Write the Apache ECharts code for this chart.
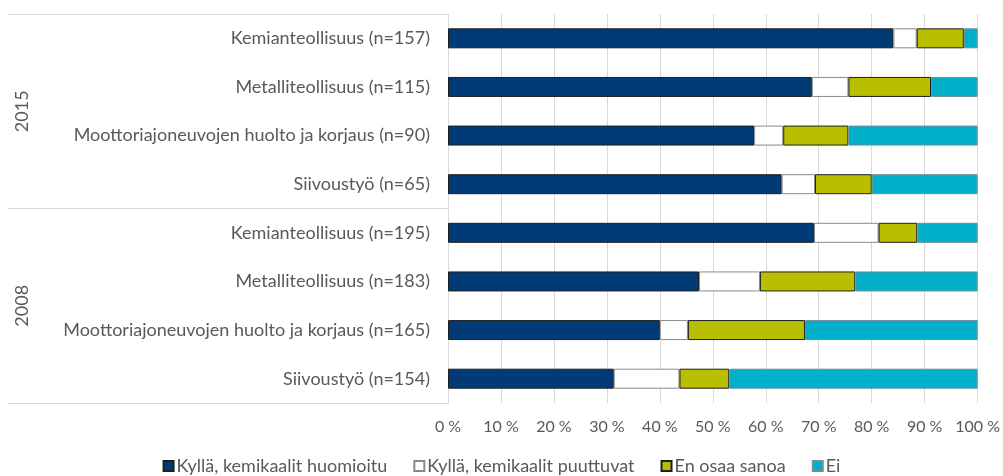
<!DOCTYPE html>
<html>
<head>
<meta charset="utf-8">
<script src="https://cdn.jsdelivr.net/npm/echarts@6/dist/echarts.min.js"></script>
<style>html,body{margin:0;padding:0;background:#fff}#c{width:1003px;height:476px}</style>
</head>
<body>
<div id="c"></div>
<script>
const categories = [
  'Kemianteollisuus (n=157)',
  'Metalliteollisuus (n=115)',
  'Moottoriajoneuvojen huolto ja korjaus (n=90)',
  'Siivoustyö (n=65)',
  'Kemianteollisuus (n=195)',
  'Metalliteollisuus (n=183)',
  'Moottoriajoneuvojen huolto ja korjaus (n=165)',
  'Siivoustyö (n=154)'
];
const years = ['2015', '2008'];
const seriesNames = ['Kyllä, kemikaalit huomioitu', 'Kyllä, kemikaalit puuttuvat', 'En osaa sanoa', 'Ei'];
const huomioitu = [84.1, 68.7, 57.8, 63.0, 69.1, 47.4, 40.0, 31.3];
const puuttuvat = [4.4, 6.9, 5.5, 6.3, 12.2, 11.5, 5.3, 12.4];
const enOsaa    = [8.9, 15.6, 12.3, 10.7, 7.3, 18.0, 22.1, 9.4];
const ei        = [2.6, 8.8, 24.4, 20.0, 11.4, 23.1, 32.6, 46.9];
const xTicks = [0, 10, 20, 30, 40, 50, 60, 70, 80, 90, 100];

const FONT = 'Lato';
const TXT = '#595959';
const colors = ['#003B76', '#FFFFFF', '#B7BF00', '#00B0CA'];
const borders = ['#1f1f1f', '#8a8a8a', '#1f1f1f', '#6f8f99'];
const values = [huomioitu, puuttuvat, enOsaa, ei];

const chart = echarts.init(document.getElementById('c'), null, {renderer: 'canvas'});
chart.setOption({
  animation: false,
  textStyle: {fontFamily: FONT},
  grid: {left: 448, right: 25, top: 14, bottom: 73, containLabel: false},
  legend: {
    bottom: -4, left: 'center',
    itemWidth: 10, itemHeight: 10, itemGap: 26,
    textStyle: {color: TXT, fontSize: 18, fontFamily: FONT, padding: [0, 0, 0, -2]},
    data: seriesNames.map(n => ({name: n, icon: 'rect'}))
  },
  xAxis: {
    type: 'value', min: xTicks[0], max: xTicks[xTicks.length - 1], interval: 10,
    axisLine: {show: false}, axisTick: {show: false},
    splitLine: {show: true, lineStyle: {color: '#d9d9d9', width: 1}},
    axisLabel: {color: TXT, fontSize: 16, margin: 16, formatter: v => v + ' %'}
  },
  yAxis: [
    {
      type: 'category', data: categories, inverse: true,
      axisLine: {show: true, lineStyle: {color: '#d9d9d9'}},
      axisTick: {show: false},
      axisLabel: {color: TXT, fontSize: 18, margin: 18}
    },
    {
      type: 'category', data: years, inverse: true, position: 'left',
      axisLine: {show: false},
      axisTick: {show: true, length: 440, lineStyle: {color: '#d9d9d9'}},
      axisLabel: {color: TXT, fontSize: 18, rotate: 90, margin: 417}
    }
  ],
  series: seriesNames.map((name, i) => ({
    name, type: 'bar', stack: 'total', yAxisIndex: 0, barWidth: 20,
    data: values[i],
    itemStyle: {color: colors[i], borderColor: borders[i], borderWidth: 1}
  }))
});
</script>
</body>
</html>
